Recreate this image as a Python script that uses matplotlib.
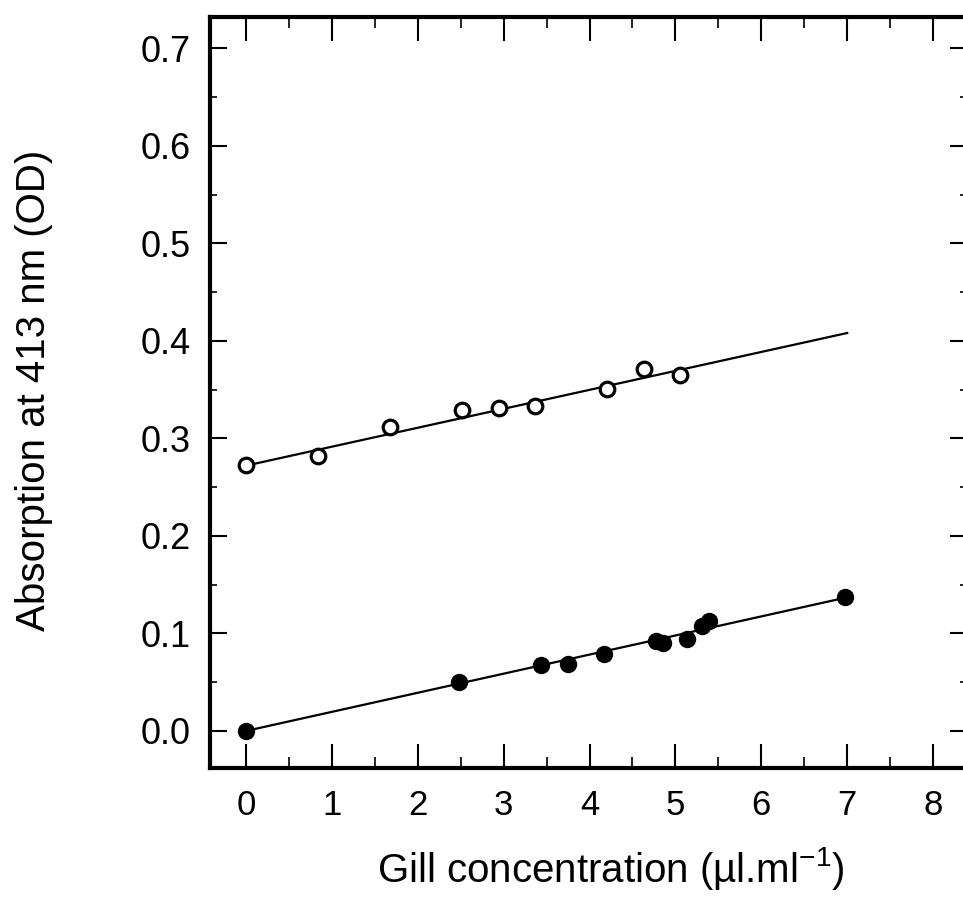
import matplotlib
matplotlib.use("Agg")
import matplotlib.pyplot as plt
from matplotlib.ticker import MultipleLocator

plt.rcParams['font.family'] = ['Liberation Sans', 'DejaVu Sans']

# Open circles
open_x = [0.0, 0.84, 1.68, 2.52, 2.95, 3.36, 4.20, 4.63, 5.05]
open_y = [0.273, 0.282, 0.312, 0.329, 0.331, 0.333, 0.351, 0.371, 0.365]
# Filled circles
filled_x = [0.0, 2.48, 3.43, 3.75, 4.17, 4.77, 4.85, 5.13, 5.31, 5.39, 6.98]
filled_y = [0.0, 0.050, 0.068, 0.069, 0.079, 0.092, 0.090, 0.094, 0.108, 0.113, 0.137]
# Fit lines
fit_x = [0.0, 7.0]
open_fit_y = [0.272, 0.408]
filled_fit_y = [0.0, 0.137]

xticks = [0, 1, 2, 3, 4, 5, 6, 7, 8]
yticks = [0.0, 0.1, 0.2, 0.3, 0.4, 0.5, 0.6, 0.7]

W, H = 963, 899
fig = plt.figure(figsize=(W / 100, H / 100), dpi=100)
left_px, right_px, top_px, bot_px = 210, 967, 17, 768
ax = fig.add_axes([left_px / W, 1 - bot_px / H,
                   (right_px - left_px) / W, (bot_px - top_px) / H])

ax.plot(fit_x, open_fit_y, color='black', lw=1.6, zorder=2)
ax.plot(fit_x, filled_fit_y, color='black', lw=1.6, zorder=2)
ax.plot(open_x, open_y, 'o', ms=10.5, mfc='white', mec='black', mew=2.3, ls='none', zorder=3)
ax.plot(filled_x, filled_y, 'o', ms=11.5, mfc='black', mec='black', ls='none', zorder=3)

ax.set_xlim(-0.419, 8.395)
ax.set_ylim(-0.038, 0.732)
ax.set_xticks(xticks)
ax.set_xticklabels([str(t) for t in xticks])
ax.set_yticks(yticks)
ax.set_yticklabels([f"{t:.1f}" for t in yticks])
ax.xaxis.set_minor_locator(MultipleLocator(0.5))
ax.yaxis.set_minor_locator(MultipleLocator(0.05))

ax.tick_params(axis='x', which='major', direction='in', length=17, width=1.5,
               top=True, bottom=True, labelsize=25, pad=15)
ax.tick_params(axis='x', which='minor', direction='in', length=8, width=1.2,
               top=True, bottom=True)
ax.tick_params(axis='y', which='major', direction='in', length=12, width=1.5,
               left=True, right=True, labelsize=26, pad=14)
ax.tick_params(axis='y', which='minor', direction='in', length=5, width=1.2,
               left=True, right=True)

for s in ax.spines.values():
    s.set_linewidth(3)

ax.set_xlabel(r"Gill concentration (µl.ml$^{\mathregular{-1}}$)", fontsize=29)
ax.set_ylabel("Absorption at 413 nm (OD)", fontsize=29)
ax_w = right_px - left_px
ax_h = bot_px - top_px
ax.xaxis.set_label_coords((611 - left_px) / ax_w, (bot_px - 845) / ax_h)
ax.yaxis.set_label_coords((53 - left_px) / ax_w, (bot_px - 390) / ax_h)

fig.savefig("out.png", dpi=100)
